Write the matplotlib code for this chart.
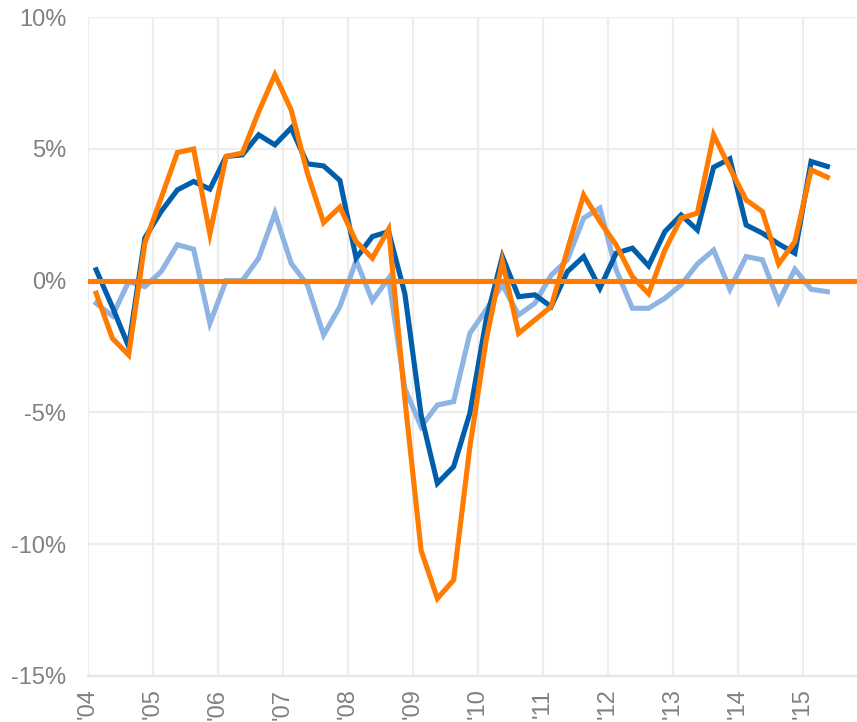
import matplotlib
matplotlib.use("Agg")
import matplotlib.pyplot as plt
import numpy as np

plt.rcParams['font.family'] = ['Liberation Sans', 'DejaVu Sans']

# Quarterly data 2004Q1 .. 2015Q2 (percent)
years = list(range(2004, 2016))
tick_labels = ["'04", "'05", "'06", "'07", "'08", "'09", "'10", "'11", "'12", "'13", "'14", "'15"]

dark_blue = [0.41, -1.0, -2.5, 1.62, 2.62, 3.44, 3.76, 3.47, 4.71, 4.77,
             5.53, 5.15, 5.79, 4.43, 4.35, 3.80, 0.85, 1.67, 1.86, -0.50,
             -5.1, -7.69, -7.06, -5.03, -1.49, 0.91, -0.61, -0.54, -0.99, 0.34,
             0.91, -0.29, 1.04, 1.23, 0.56, 1.86, 2.49, 1.92, 4.30, 4.62,
             2.11, 1.80, 1.39, 1.04, 4.52, 4.33]

orange = [-0.48, -2.19, -2.82, 1.42, 3.13, 4.86, 4.99, 1.77, 4.71, 4.84,
          6.40, 7.81, 6.48, 4.08, 2.20, 2.79, 1.48, 0.85, 1.95, -4.5,
          -10.24, -12.06, -11.36, -6.3, -2.26, 0.72, -2.0, -1.49, -0.99, 1.16,
          3.25, 2.24, 1.36, 0.15, -0.50, 1.16, 2.37, 2.56, 5.53, 4.27,
          3.06, 2.62, 0.63, 1.48, 4.20, 3.92]

light_blue = [-0.86, -1.34, -0.04, -0.23, 0.34, 1.36, 1.19, -1.62, 0.0, 0.0,
              0.85, 2.56, 0.66, -0.16, -2.06, -0.99, 0.76, -0.76, 0.09, -4.1,
              -5.54, -4.72, -4.59, -2.0, -1.11, -0.16, -1.30, -0.86, 0.2, 0.79,
              2.37, 2.75, 0.41, -1.05, -1.05, -0.67, -0.16, 0.63, 1.16, -0.33,
              0.91, 0.79, -0.80, 0.43, -0.33, -0.42]

y_ticks = [-15, -10, -5, 0, 5, 10]
y_tick_labels = ['-15%', '-10%', '-5%', '0%', '5%', '10%']

x = 2004 + 0.125 + 0.25 * np.arange(len(dark_blue))

fig = plt.figure(figsize=(8.57, 7.22), dpi=100)
W, H = 857, 722
ax = fig.add_axes([88 / W, 1 - 676 / H, 1 - 88 / W, (676 - 17) / H])

C_DARK = '#005EAA'
C_ORANGE = '#FF7C00'
C_LIGHT = '#8DB4E3'

ax.plot(x, light_blue, color=C_LIGHT, lw=3.7, zorder=3, solid_joinstyle='miter')
ax.plot(x, dark_blue, color=C_DARK, lw=3.7, zorder=4, solid_joinstyle='miter')
ax.plot(x, orange, color=C_ORANGE, lw=3.7, zorder=5, solid_joinstyle='miter')
ax.axhline(0, color=C_ORANGE, lw=3.7, zorder=6)

ax.set_xlim(2004, 2004 + (857 - 88) / 65.0)
ax.set_ylim(-15, 10)

ax.set_yticks(y_ticks)
ax.set_yticklabels(y_tick_labels)
ax.set_xticks(years)
ax.set_xticklabels(tick_labels, rotation=90, va='top', ha='center')

ax.tick_params(axis='both', length=0, colors='#808080', labelsize=17)
ax.tick_params(axis='y', pad=15.5)
ax.tick_params(axis='x', pad=9)

ax.grid(True, color='#EDEDED', lw=1.6, zorder=0)
for s in ['top', 'right', 'left']:
    ax.spines[s].set_visible(False)
ax.spines['bottom'].set_color('#E6E6E6')
ax.spines['bottom'].set_linewidth(1.6)

fig.savefig('out.png', dpi=100)
